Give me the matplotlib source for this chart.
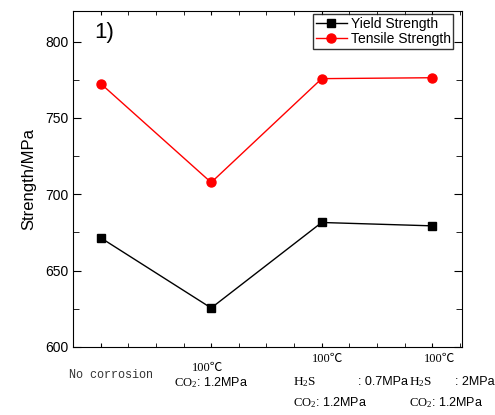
import numpy as np
import matplotlib
matplotlib.use('Agg')
import matplotlib.pyplot as plt
from matplotlib.ticker import MultipleLocator

plt.rcParams['font.family'] = ['Liberation Sans', 'DejaVu Sans']
plt.rcParams['mathtext.fontset'] = 'custom'
plt.rcParams['mathtext.rm'] = 'Liberation Serif'
plt.rcParams['mathtext.it'] = 'Liberation Serif:italic'

# 數據
conditions = ['No corrosion', 'CO2 1.2MPa', 'H2S 0.7MPa + CO2 1.2MPa', 'H2S 2MPa + CO2 1.2MPa']
yield_strength = [671.5, 625.5, 681.5, 679.3]
tensile_strength = [772.5, 707.7, 775.7, 776.3]

x = np.arange(len(conditions))

fig = plt.figure(figsize=(4.95, 4.15), dpi=100)
ax = fig.add_axes([0.1475, 0.164, 0.786, 0.8095])

ax.plot(x, yield_strength, color='black', marker='s', markersize=6, linewidth=1, label='Yield Strength')
ax.plot(x, tensile_strength, color='red', marker='o', markersize=6.5, linewidth=1, label='Tensile Strength')

ax.set_xlim(-0.25, 3.27)
ax.set_ylim(600, 820)
ax.yaxis.set_major_locator(MultipleLocator(50))
ax.yaxis.set_minor_locator(MultipleLocator(25))
ax.xaxis.set_major_locator(MultipleLocator(1))
ax.xaxis.set_minor_locator(MultipleLocator(0.25))
ax.set_xticklabels([])
ax.tick_params(which='both', direction='in', top=True, right=True, labelsize=10)
ax.tick_params(axis='y', which='major', length=6)
ax.tick_params(axis='y', which='minor', length=4)
ax.tick_params(axis='x', which='both', length=3)
ax.set_ylabel('Strength/MPa', fontsize=12, labelpad=6)

ax.text(0.055, 0.935, '1)', transform=ax.transAxes, fontsize=16, va='center')

leg = ax.legend(loc='upper right', bbox_to_anchor=(0.985, 1.0), fontsize=10, frameon=True,
                fancybox=False, edgecolor='black', borderpad=0.2, handlelength=2.2,
                handletextpad=0.3, labelspacing=0.1, borderaxespad=0.2)
leg.get_frame().set_linewidth(1)

# x 軸類別標籤
tr = ax.get_xaxis_transform()
serif = ['Liberation Serif', 'Noto Sans CJK SC']
ax.text(0.09, -0.083, 'No corrosion', transform=tr, ha='center', va='center',
        family='Liberation Mono', fontsize=8.5, color='#333333')

ax.text(0.97, -0.0625, '100℃', transform=tr, ha='center', va='center', family=serif, fontsize=9)
ax.text(1.0, -0.107, r'$\mathrm{CO_2}$: 1.2MPa', transform=tr, ha='center', va='center', fontsize=9)

for xc, h2s in [(2, ': 0.7MPa'), (3, ': 2MPa')]:
    off = 0 if xc == 2 else 0.05
    ax.text(xc + 0.05 + off * 0.4, -0.036, '100℃', transform=tr, ha='center', va='center', family=serif, fontsize=9)
    ax.text(xc - 0.26 + off, -0.104, r'$\mathrm{H_2S}$', transform=tr, ha='left', va='center', fontsize=9.5)
    ax.text(xc + 0.33 - 2.4 * off, -0.104, h2s, transform=tr, ha='left', va='center', fontsize=9)
    ax.text(xc - 0.26 + off, -0.167, r'$\mathrm{CO_2}$: 1.2MPa', transform=tr, ha='left', va='center', fontsize=9)

fig.savefig('out.png', dpi=100)
